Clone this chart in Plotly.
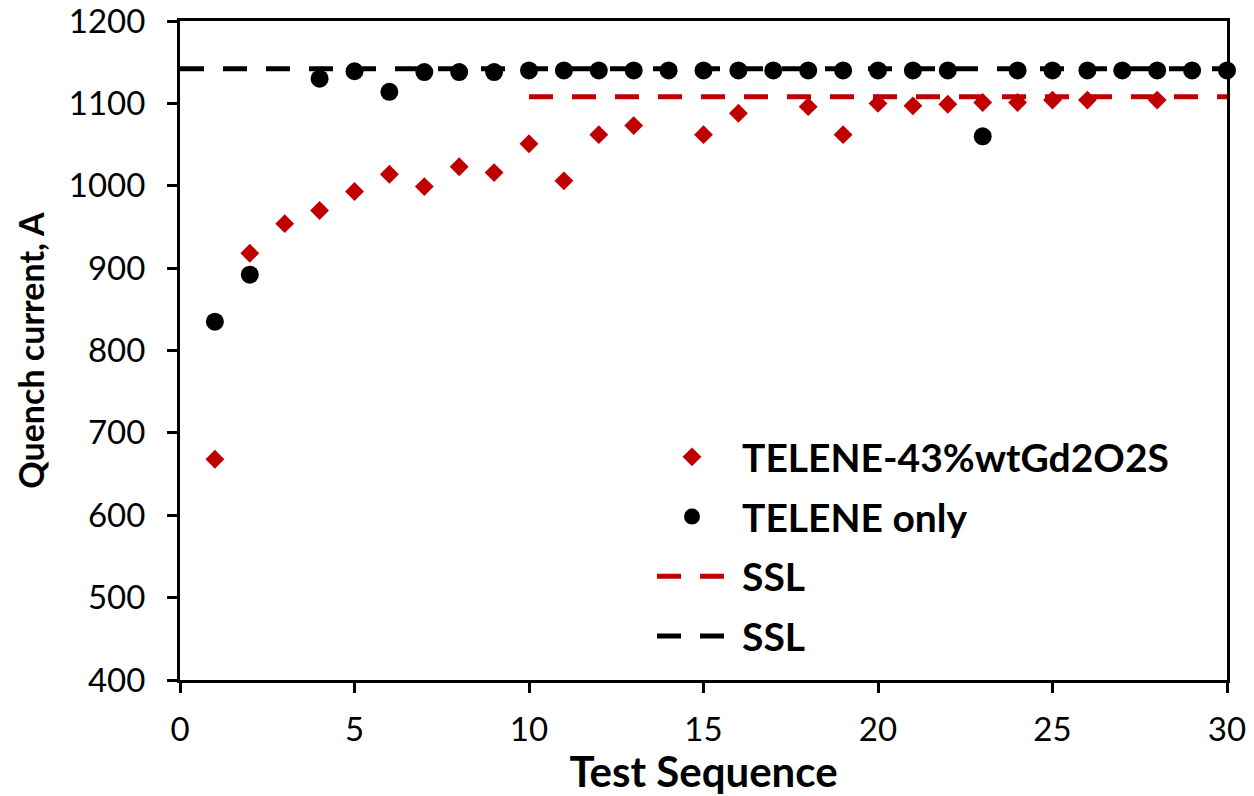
import plotly.graph_objects as go

# Quench training data for two impregnation resins
seq_gd = [1, 2, 3, 4, 5, 6, 7, 8, 9, 10, 11, 12, 13, 15, 16, 18, 19, 20, 21, 22, 23, 24, 25, 26, 28]
iq_gd = [668, 918, 954, 970, 993, 1014, 999, 1023, 1016, 1051, 1006, 1062, 1073, 1062, 1088,
         1096, 1062, 1100, 1097, 1099, 1101, 1101, 1104, 1104, 1104]

seq_tel = [1, 2, 4, 5, 6, 7, 8, 9, 10, 11, 12, 13, 14, 15, 16, 17, 18, 19, 20, 21, 22, 23, 24,
           25, 26, 27, 28, 29, 30]
iq_tel = [835, 892, 1130, 1139, 1114, 1138, 1138, 1138, 1140, 1140, 1140, 1140, 1140, 1140, 1140,
          1140, 1140, 1140, 1140, 1140, 1140, 1060, 1140, 1140, 1140, 1140, 1140, 1140, 1140]

# Short-sample limits
ssl_gd_x = [10, 30]
ssl_gd_y = [1108, 1108]
ssl_tel_x = [0, 30]
ssl_tel_y = [1142, 1142]

RED = "#C00000"
BLACK = "#000000"
FONT = "Lato"
PAD = "\u00a0"  # small lead-in so legend labels sit clear of the symbols

fig = go.Figure()
fig.add_trace(go.Scatter(
    x=seq_gd, y=iq_gd, mode="markers", name=PAD + "<b>TELENE-43%wtGd2O2S</b>",
    marker=dict(symbol="diamond", size=14.5, color=RED), cliponaxis=False, legendgroup="a"))
fig.add_trace(go.Scatter(
    x=seq_tel, y=iq_tel, mode="markers", name=PAD + "<b>TELENE only</b>",
    marker=dict(symbol="circle", size=18, color=BLACK), cliponaxis=False, legendgroup="b"))
fig.add_trace(go.Scatter(
    x=ssl_gd_x, y=ssl_gd_y, mode="lines", name=PAD + "<b>SSL</b>",
    line=dict(color=RED, width=5, dash="24px,19px"), legendgroup="c"))
fig.add_trace(go.Scatter(
    x=ssl_tel_x, y=ssl_tel_y, mode="lines", name=PAD + "<b>SSL</b>",
    line=dict(color=BLACK, width=5, dash="24px,19px"), legendgroup="d"))

axis_common = dict(
    showline=True, linecolor=BLACK, linewidth=3, mirror=True,
    ticks="outside", ticklen=10, tickwidth=2.5, tickcolor=BLACK,
    showgrid=False, zeroline=False, automargin=False, ticklabeloverflow="allow",
    tickfont=dict(family=FONT, size=33, color=BLACK),
)

fig.update_layout(
    width=1254, height=796,
    margin=dict(l=180, r=27, t=21, b=116),
    paper_bgcolor="white", plot_bgcolor="white",
    font=dict(family=FONT, color=BLACK),
    xaxis=dict(range=[0, 30], dtick=5, tick0=0,
               title=dict(text="<b>Test Sequence</b>", font=dict(family=FONT, size=42), standoff=15),
               ticklabelstandoff=8,
               **axis_common),
    yaxis=dict(range=[400, 1200], dtick=100, tick0=400,
               title=dict(text="<b>Quench current, A</b>", font=dict(family=FONT, size=34), standoff=14),
               ticklabelstandoff=15,
               **axis_common),
    legend=dict(x=(652 - 180) / 1047, y=0.387, xanchor="left", yanchor="top",
                font=dict(family=FONT, size=39, color=BLACK), itemwidth=70,
                bgcolor="rgba(0,0,0,0)", traceorder="grouped", tracegroupgap=6),
    showlegend=True,
)

fig.write_html("out.html")
